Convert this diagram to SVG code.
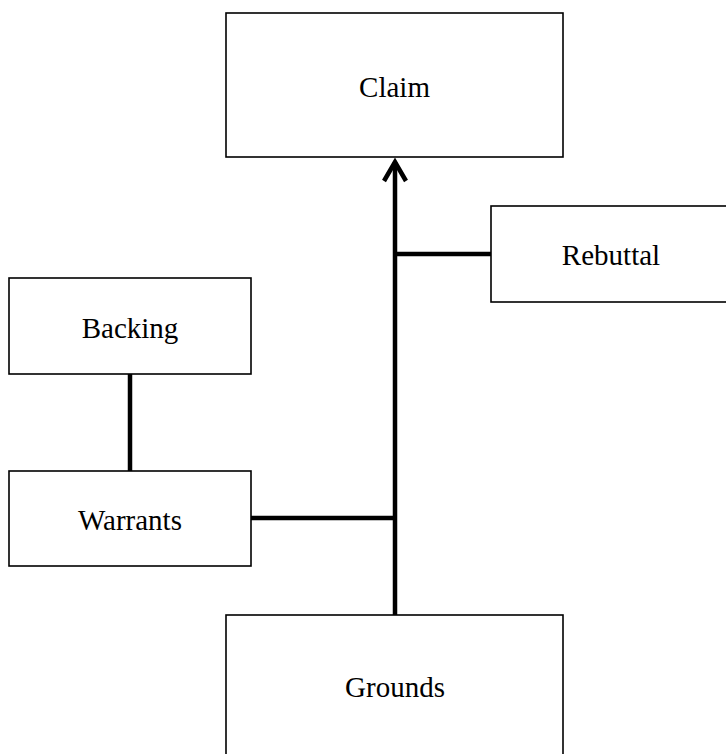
<svg xmlns="http://www.w3.org/2000/svg" width="726" height="754" viewBox="0 0 726 754">
<style>
.box{fill:#fff;stroke:#000;stroke-width:1.6}
.lbl{font-family:'Liberation Serif','Times New Roman',Tinos,serif;font-size:29px;fill:#000;text-anchor:middle}
.con{fill:none;stroke:#000;stroke-width:4.5}
</style>
<defs>
<marker id="arr" viewBox="-24 -14 28 28" refX="0" refY="0" markerWidth="28" markerHeight="28" markerUnits="userSpaceOnUse" orient="auto">
<polyline points="-19,-11 0,0 -19,11" fill="none" stroke="#000" stroke-width="4.5"/>
</marker>
</defs>
<rect width="726" height="754" fill="#fff"/>
<g id="connectors">
<line class="con" x1="395" y1="615" x2="395" y2="162" marker-end="url(#arr)"/>
<line class="con" x1="395" y1="254" x2="491" y2="254"/>
<line class="con" x1="251" y1="518" x2="395" y2="518"/>
<line class="con" x1="130" y1="374" x2="130" y2="471"/>
</g>
<g id="claim">
<rect class="box" x="226" y="13" width="337" height="144"/>
<text class="lbl" x="394.5" y="97">Claim</text>
</g>
<g id="rebuttal">
<rect class="box" x="491" y="206" width="240" height="96"/>
<text class="lbl" x="611" y="265">Rebuttal</text>
</g>
<g id="backing">
<rect class="box" x="9" y="278" width="242" height="96"/>
<text class="lbl" x="130" y="338">Backing</text>
</g>
<g id="warrants">
<rect class="box" x="9" y="471" width="242" height="95"/>
<text class="lbl" x="130" y="530">Warrants</text>
</g>
<g id="grounds">
<rect class="box" x="226" y="615" width="337" height="150"/>
<text class="lbl" x="395" y="697">Grounds</text>
</g>
</svg>
